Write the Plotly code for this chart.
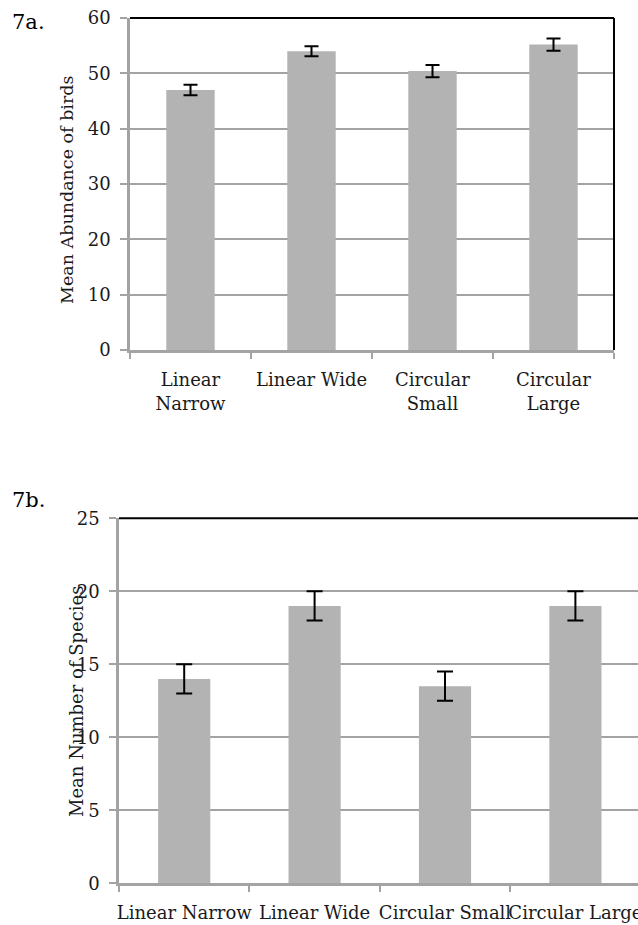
import plotly.graph_objects as go

W, H = 638, 925

categories = ["Linear Narrow", "Linear Wide", "Circular Small", "Circular Large"]
labels_a = ["Linear<br>Narrow", "Linear Wide", "Circular<br>Small", "Circular<br>Large"]
labels_b = ["Linear Narrow", "Linear Wide", "Circular Small", "Circular Large"]

abundance = [47.0, 54.0, 50.4, 55.2]
abundance_err = [0.95, 0.9, 1.1, 1.1]
species = [14.0, 19.0, 13.5, 19.0]
species_err = [1.0, 1.0, 1.0, 1.0]

ticks_a = [0, 10, 20, 30, 40, 50, 60]
ticks_b = [0, 5, 10, 15, 20, 25]

FONT = "DejaVu Serif"
BAR = "#b3b3b3"
GRID = "#a3a3a3"
TXT = "#1a1a1a"


def px_x(v):
    return v / W


def px_y(v):
    return (H - v) / H


fig = go.Figure()
fig.add_trace(go.Bar(
    x=categories, y=abundance, xaxis="x", yaxis="y",
    marker=dict(color=BAR, line=dict(width=0)),
    error_y=dict(type="data", array=abundance_err, color="black", thickness=2, width=7),
    showlegend=False,
))
fig.add_trace(go.Bar(
    x=categories, y=species, xaxis="x2", yaxis="y2",
    marker=dict(color=BAR, line=dict(width=0)),
    error_y=dict(type="data", array=species_err, color="black", thickness=2, width=8),
    showlegend=False,
))

common_x = dict(
    type="category", showgrid=False, showline=True, linecolor=GRID, linewidth=2.5,
    ticks="outside", ticklen=6, tickcolor=GRID, tickwidth=2, tickson="boundaries",
    tickfont=dict(family=FONT, size=18, color=TXT), tickangle=0,
    ticklabeloverflow="allow", automargin=False, fixedrange=True,
)
common_y = dict(
    showgrid=True, gridcolor=GRID, gridwidth=2, showline=True, linecolor=GRID, linewidth=2.5,
    ticks="outside", ticklen=7, tickcolor=GRID, tickwidth=2, zeroline=False,
    tickfont=dict(family=FONT, size=18, color=TXT), ticklabelstandoff=6,
    automargin=False, fixedrange=True,
)

fig.update_layout(
    template="none",
    width=W, height=H, margin=dict(l=0, r=0, t=0, b=0, autoexpand=False),
    paper_bgcolor="white", plot_bgcolor="white", bargap=0.6,
    xaxis=dict(common_x, domain=[px_x(130), px_x(614)], anchor="y", ticklabelstandoff=12,
               tickvals=categories, ticktext=labels_a, range=[-0.5, 3.5]),
    yaxis=dict(common_y, domain=[px_y(350), px_y(18)], anchor="x",
               range=[0, 60], tickvals=ticks_a),
    xaxis2=dict(common_x, domain=[px_x(119), 1.0], anchor="y2", ticklabelstandoff=11,
                tickvals=categories, ticktext=labels_b, range=[-0.5, -0.5 + 519 / 130.4]),
    yaxis2=dict(common_y, domain=[px_y(883.3), px_y(518.3)], anchor="x2",
                range=[0, 25], tickvals=ticks_b),
    shapes=[
        dict(type="line", xref="x domain", yref="y domain", x0=0, x1=1, y0=1, y1=1,
             line=dict(color="black", width=2)),
        dict(type="line", xref="x domain", yref="y domain", x0=1, x1=1, y0=0, y1=1,
             line=dict(color="black", width=2)),
        dict(type="line", xref="x2 domain", yref="y2 domain", x0=0, x1=1, y0=1, y1=1,
             line=dict(color="black", width=2)),
    ],
    annotations=[
        dict(text="7a.", x=px_x(10), y=px_y(22), xref="paper", yref="paper",
             xanchor="left", yanchor="middle", showarrow=False,
             font=dict(family=FONT, size=21, color="black")),
        dict(text="7b.", x=px_x(10), y=px_y(500), xref="paper", yref="paper",
             xanchor="left", yanchor="middle", showarrow=False,
             font=dict(family=FONT, size=21, color="black")),
        dict(text="Mean Abundance of birds", x=px_x(67), y=px_y(190), xref="paper", yref="paper",
             xanchor="center", yanchor="middle", textangle=-90, showarrow=False,
             font=dict(family=FONT, size=17.5, color=TXT)),
        dict(text="Mean Number of Species", x=px_x(76), y=px_y(701), xref="paper", yref="paper",
             xanchor="center", yanchor="middle", textangle=-90, showarrow=False,
             font=dict(family=FONT, size=18, color=TXT)),
    ],
)

fig.write_html("out.html")
